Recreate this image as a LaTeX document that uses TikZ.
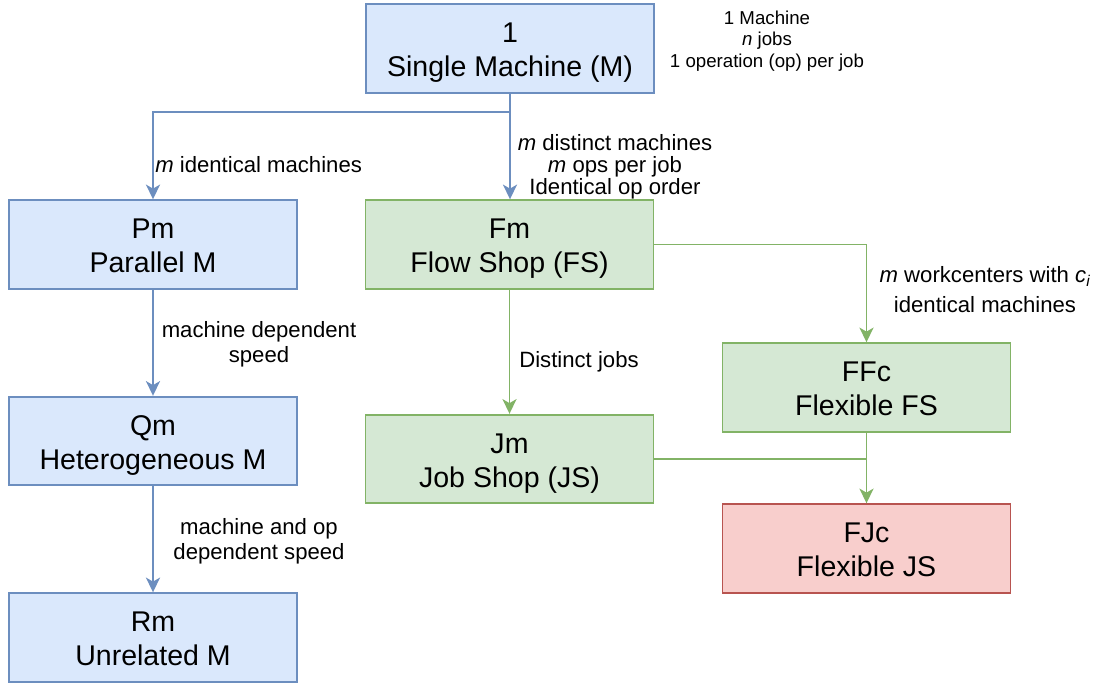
\documentclass[tikz,border=0pt]{standalone}
\usepackage{fontspec}
\setmainfont{Liberation Sans}
\usetikzlibrary{arrows.meta}
\definecolor{bluefill}{HTML}{DAE8FC}
\definecolor{bluedraw}{HTML}{6C8EBF}
\definecolor{greenfill}{HTML}{D5E8D4}
\definecolor{greendraw}{HTML}{82B366}
\definecolor{redfill}{HTML}{F8CECC}
\definecolor{reddraw}{HTML}{B85450}
% two centred lines with a fixed top height and bottom depth
\newcommand{\boxlines}[2]{\rule{0pt}{21.3pt}#1\\#2\rule[-4.5pt]{0pt}{4.5pt}}
\tikzset{
  box/.style={rectangle, minimum width=216pt, minimum height=66.5pt, inner sep=0pt,
    line width=1.3pt, align=center, font=\fontsize{21.4}{25.5}\selectfont},
  bluebox/.style={box, fill=bluefill, draw=bluedraw},
  greenbox/.style={box, fill=greenfill, draw=greendraw},
  redbox/.style={box, fill=redfill, draw=reddraw},
  link/.style={line width=1.4pt},
  tip/.style={-{Stealth[length=11pt,width=10.5pt,inset=3pt]}},
  lbl/.style={align=center, inner sep=0pt, font=\fontsize{16.6}{16.6}\selectfont},
  note/.style={align=center, inner sep=0pt, font=\fontsize{14}{16.1}\selectfont},
}
\begin{document}
\begin{tikzpicture}[x=0.75pt,y=-0.75pt]
\useasboundingbox (0,0) rectangle (1104,688);

% machine environments
\node[bluebox] (single) at (510,48.5) {\boxlines{1}{Single Machine (M)}};
\node[bluebox] (pm) at (153,244.5) {\boxlines{Pm}{Parallel M}};
\node[bluebox] (qm) at (153,441) {\boxlines{Qm}{Heterogeneous M}};
\node[bluebox] (rm) at (153,637.5) {\boxlines{Rm}{Unrelated M}};
\node[greenbox] (fm) at (509.5,244.5) {\boxlines{Fm}{Flow Shop (FS)}};
\node[greenbox] (ffc) at (866.5,387.5) {\boxlines{FFc}{Flexible FS}};
\node[greenbox] (jm) at (509.5,459) {\boxlines{Jm}{Job Shop (JS)}};
\node[redbox] (fjc) at (866.5,548.5) {\boxlines{FJc}{Flexible JS}};

% single machine branches
\draw[link, bluedraw, tip] (single.south) -- ++(0,18) -| (pm.north);
\draw[link, bluedraw, tip] (single.south) -- (single.south |- fm.north);
\draw[link, bluedraw, tip] (pm.south) -- (qm.north);
\draw[link, bluedraw, tip] (qm.south) -- (rm.north);

% shop branches
\draw[link, greendraw, tip] (fm.east) -| (ffc.north);
\draw[link, greendraw, tip] (fm.south) -- (fm.south |- jm.north);
\draw[link, greendraw] (jm.east) -- (ffc.south |- jm.east);
\draw[link, greendraw, tip] (ffc.south) -- (fjc.north);

% annotations
\node[note] (n1) at (767,41) {1 Machine\\\textit{n} jobs\\1 operation (op) per job};
\node[lbl, anchor=west] (l1) at (155,165) {\textit{m} identical machines};
\node[lbl] (l2) at (615,167) {\textit{m} distinct machines\\\textit{m} ops per job\\Identical op order};
\node[lbl] (l3) at (259,344) {machine dependent\\[2pt]speed};
\node[lbl] (l4) at (259,541.5) {machine and op\\[2pt]dependent speed};
\node[lbl] (l5) at (579,362) {Distinct jobs};
\node[lbl] (l6) at (985,290) {\textit{m} workcenters with \textit{c\textsubscript{i}}\\[6pt]identical machines};
\end{tikzpicture}
\end{document}
